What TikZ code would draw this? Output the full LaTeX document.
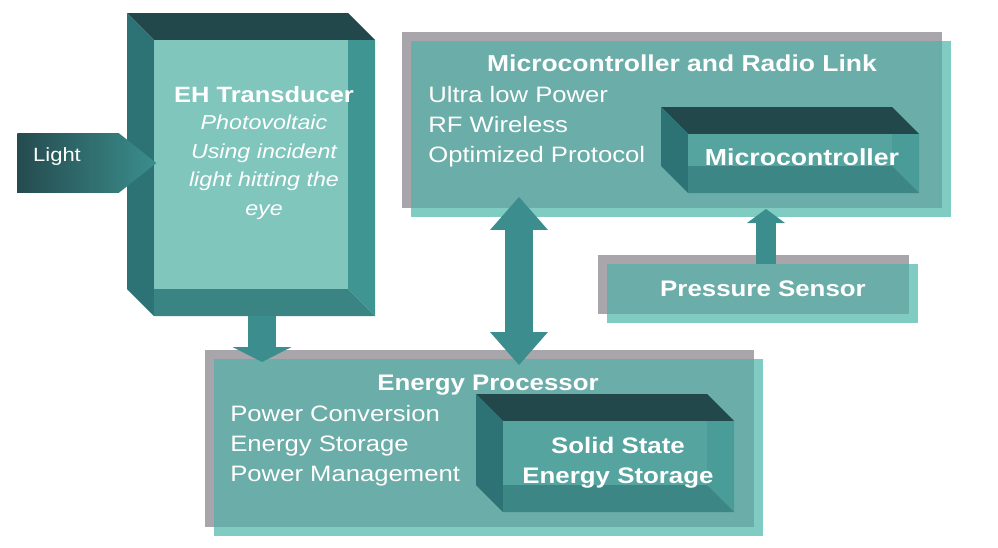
\documentclass[tikz,border=0pt]{standalone}
\usepackage{fontspec}
\setmainfont{Liberation Sans}[FakeStretch=1.15]
\usetikzlibrary{positioning,shapes.symbols,shadows,arrows.meta,fit}

\definecolor{boxgray}{HTML}{A8A6AB}
\definecolor{tealstrip}{HTML}{80CBC2}
\definecolor{tealfill}{HTML}{6BADA8}
\definecolor{facetop}{HTML}{22484C}
\definecolor{faceleft}{HTML}{2D7376}
\definecolor{ehfront}{HTML}{80C6BD}
\definecolor{ehright}{HTML}{3E9592}
\definecolor{ehbottom}{HTML}{3A8483}
\definecolor{boxfront}{HTML}{55A49F}
\definecolor{boxright}{HTML}{4A9C99}
\definecolor{boxbottom}{HTML}{3C8786}
\definecolor{arrowteal}{HTML}{3B8E8D}
\definecolor{lightdark}{HTML}{254B4F}

\tikzset{
    panel/.style = { rectangle, draw=none, fill=tealstrip, inner sep=0,
        general shadow={fill=boxgray, shadow xshift=-0.18cm, shadow yshift=0.18cm},
        path picture={\fill [tealfill] (path picture bounding box.north west)
            rectangle ([xshift=-0.18cm,yshift=0.18cm]path picture bounding box.south east);}, },
    heading/.style = { text=white, inner sep=0, font=\bfseries\fontsize{12.8}{17}\selectfont, },
    body/.style = { text=white, inner sep=0, align=left, font=\fontsize{12.7}{17}\selectfont, },
    note/.style = { text=white, inner sep=0, align=center, font=\itshape\fontsize{11.5}{16.3}\selectfont, },
    tag/.style = { heading, align=center, },
    flow/.style = { draw=arrowteal, line width=0.58cm,
        -{Triangle[width=1.18cm,length=0.3cm,line width=0pt]}, },
    link/.style = { draw=arrowteal, line width=0.56cm,
        {Triangle[width=1.16cm,length=0.66cm,line width=0pt]}-{Triangle[width=1.16cm,length=0.66cm,line width=0pt]}, },
    feed/.style = { draw=arrowteal, line width=0.4cm,
        -{Triangle[width=0.76cm,length=0.28cm,line width=0pt]}, },
    sign/.style = { signal, signal to=east, signal pointer angle=77, draw=none,
        left color=lightdark, right color=arrowteal, inner sep=0, },
}

% name, x1, y1, x2, y2, front, right, bottom
\newcommand{\bevel}[8]{
    \fill [facetop] (#2,#3) -- (#4-27,#3) -- (#4,#3+27) -- (#2+27,#3+27) -- cycle;
    \fill [faceleft] (#2,#3) -- (#2+27,#3+27) -- (#2+27,#5) -- (#2,#5-27) -- cycle;
    \fill [#7] (#4-27,#3+27) -- (#4,#3+27) -- (#4,#5) -- (#4-27,#5-27) -- cycle;
    \fill [#8] (#2+27,#5-27) -- (#4-27,#5-27) -- (#4,#5) -- (#2+27,#5) -- cycle;
    \fill [#6] (#2+27,#3+27) rectangle (#4-27,#5-27);
    \node [fit={(#2,#3) (#4,#5)}, inner sep=0] (#1) {};
}

\begin{document}
\begin{tikzpicture}[x=0.02cm,y=-0.02cm]

    \useasboundingbox (0,0) rectangle (998,548);

    \node [panel, minimum width=10.8cm, minimum height=3.52cm] (mcubox) at (681,129) {};
    \node [panel, minimum width=10.98cm, minimum height=3.54cm] (epbox) at (488.5,447.5) {};
    \node [panel, minimum width=6.22cm, minimum height=1.18cm] (psbox) at (762.5,293.5) {};

    \bevel{ehbox}{127}{13}{375}{316}{ehfront}{ehright}{ehbottom}
    \bevel{mcu}{661}{107}{919}{193}{boxfront}{boxright}{boxbottom}
    \bevel{sses}{476}{394}{734}{512}{boxfront}{boxright}{boxbottom}

    \node [heading, font=\bfseries\fontsize{12.6}{17}\selectfont] (ehtitle) at (264,95) {EH Transducer};
    \node [note, below=0.22cm of ehtitle] (ehnote) {Photovoltaic\\Using incident\\light hitting the\\eye};

    \node [heading, font=\bfseries\fontsize{13.1}{17}\selectfont] (mcutitle) at (682,63) {Microcontroller and Radio Link};
    \node [body, anchor=west] (mcutext) at (428,127) {Ultra low Power\\RF Wireless\\Optimized Protocol};
    \node [tag, font=\bfseries\fontsize{13.2}{17}\selectfont] (mcutag) at (802,157) {Microcontroller};

    \node [heading] (eptitle) at (488,385) {Energy Processor};
    \node [body, anchor=west] (eptext) at (230,446) {Power Conversion\\Energy Storage\\Power Management};
    \node [tag] (ssestag) at (618,463) {Solid State\\Energy Storage};

    \node [tag] (pstag) at (763,289) {Pressure Sensor};

    \coordinate (epin) at (262,362);
    \coordinate (mcuport) at (519,197);
    \coordinate (epport) at (519,365);
    \coordinate (mcuin) at (766,209);

    \draw [flow] (ehbox.south -| epin) -- (epin);
    \draw [link] (mcuport) -- (epport);
    \draw [feed] (psbox.north -| mcuin) -- (mcuin);

    \node [sign, minimum width=2.78cm, minimum height=1.2cm, anchor=west] (light) at (17,163) {};
    \node [text=white, inner sep=0, font=\fontsize{10.9}{13}\selectfont] (lighttag) at (57,157) {Light};

\end{tikzpicture}
\end{document}
